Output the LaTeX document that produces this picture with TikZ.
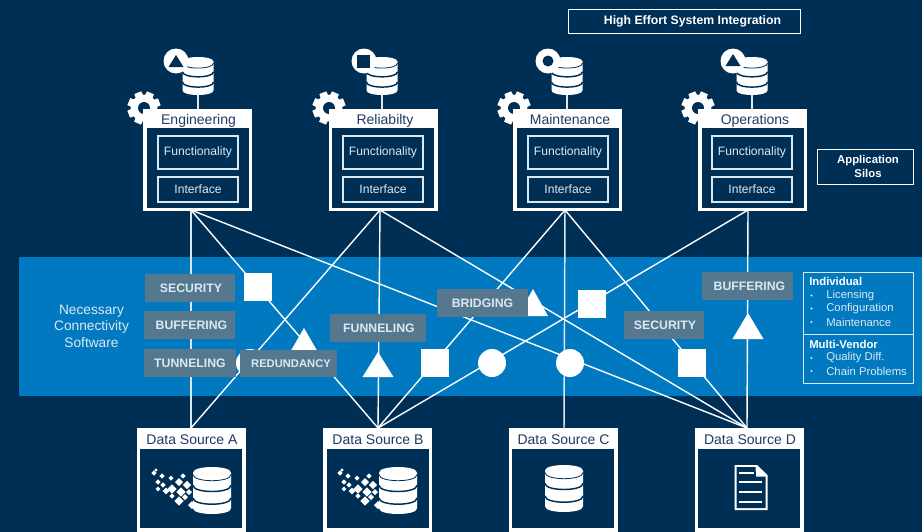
\documentclass[tikz,border=0pt]{standalone}
\usepackage{fontspec}
\setmainfont{Liberation Sans}
\usetikzlibrary{calc}
\definecolor{navy}{HTML}{002F56}
\definecolor{band}{HTML}{0079C1}
\definecolor{tag}{HTML}{56788F}
\definecolor{ttl}{HTML}{1E3A62}
\definecolor{pale}{HTML}{DCE8F1}
\def\u{0.75pt}
\tikzset{
  link/.style={white,line width=1.05pt},
  palelink/.style={pale,line width=1.1pt},
  sym/.style={fill=white,draw=none,inner sep=0pt,outer sep=0pt},
  sqsym/.style={sym,rectangle,minimum size=28*\u},
  cisym/.style={sym,circle,minimum size=28*\u},
  tagbox/.style={fill=tag,text=pale,inner sep=0pt,outer sep=0pt,text height=6.5pt,text depth=0pt,font=\fontsize{9.2pt}{11pt}\selectfont\bfseries,align=center},
  outer/.style={fill=white,inner sep=0pt,outer sep=0pt,minimum width=109*\u},
  inner/.style={fill=navy,inner sep=0pt,outer sep=0pt,minimum width=102*\u},
  sub/.style={draw=pale,line width=1.1pt,fill=navy,text=pale,inner sep=0pt,minimum width=80*\u,font=\fontsize{9.1pt}{11pt}\selectfont},
  ttlb/.style={text=ttl,inner sep=0pt,anchor=base,font=\fontsize{10.5pt}{12pt}\selectfont},
  note/.style={draw=white,line width=0.65pt,text=white,inner sep=0pt,align=center,font=\fontsize{8.5pt}{10.5pt}\selectfont\bfseries},
  small/.style={text=pale,inner sep=0pt,anchor=west,font=\fontsize{8.5pt}{9pt}\selectfont},
  smallb/.style={small,text=white,font=\fontsize{8.5pt}{9pt}\selectfont\bfseries},
}
% database icon: x, y top, half width, height
\newcommand{\dbicon}[4]{%
  \begin{scope}[shift={(#1,#2)}]
    \pgfmathsetmacro{\w}{#3}\pgfmathsetmacro{\h}{#4}
    \pgfmathsetmacro{\e}{\h*0.12}\pgfmathsetmacro{\k}{\h*0.175}
    \pgfmathsetmacro{\ta}{\h*0.16}
    \pgfmathsetmacro{\tb}{\h*0.39}\pgfmathsetmacro{\tc}{\h*0.66}
    \pgfmathsetmacro{\bt}{\h-\e}
    \fill[white] (-\w,\e) .. controls (-\w,-\e*0.33) and (\w,-\e*0.33) .. (\w,\e)
      -- (\w,\bt) .. controls (\w,\h+\e*0.33) and (-\w,\h+\e*0.33) .. (-\w,\bt) -- cycle;
    \draw[navy,line width=0.6pt] (-\w,\ta) .. controls (-\w,\ta+\k) and (\w,\ta+\k) .. (\w,\ta);
    \draw[navy,line width=1.1pt] (-\w,\tb) .. controls (-\w,\tb+\k) and (\w,\tb+\k) .. (\w,\tb);
    \draw[navy,line width=1.1pt] (-\w,\tc) .. controls (-\w,\tc+\k) and (\w,\tc+\k) .. (\w,\tc);
  \end{scope}}
% gear: x, y
\newcommand{\gearicon}[2]{%
  \begin{scope}[shift={(#1,#2)}]
    \foreach \a in {0,45,...,315}{
      \fill[white,rotate=\a+22] (-3.7,-16.5) -- (3.7,-16.5) -- (4.7,0) -- (-4.7,0) -- cycle;}
    \fill[white] (0,0) circle [radius=13.3];
    \fill[navy] (0,0) circle [radius=6];
  \end{scope}}
% triangle: x apex, y apex, half base, height
\newcommand{\tri}[4]{\fill[white] (#1,#2) -- (#1+#3,#2+#4) -- (#1-#3,#2+#4) -- cycle;}
% diamond
\newcommand{\dia}[3]{\fill[white] (#1-#3,#2) -- (#1,#2-#3) -- (#1+#3,#2) -- (#1,#2+#3) -- cycle;}
\newcommand{\pixels}[2]{%
  \begin{scope}[shift={(#1,#2)}]
    \dia{-58}{-17}{2.6}\dia{-56}{-20}{1.6}\dia{-50}{-14}{2.6}\dia{-41}{-12}{2.5}
    \dia{-54}{-8}{2.6}\dia{-49}{-5}{2.6}\dia{-54}{-1}{2.4}\dia{-46}{1}{3.3}
    \dia{-40}{-1}{4.6}\dia{-33}{-8}{4}\dia{-25}{-5}{4.2}\dia{-31}{2}{4.6}
    \dia{-40}{6}{2.6}\dia{-33}{11}{4.6}\dia{-27}{7}{3}\dia{-29}{-14}{2.6}
    \dia{-20}{15}{4}\dia{-23}{2}{3}
  \end{scope}}
\begin{document}
\begin{tikzpicture}[x=\u,y=-\u]
\useasboundingbox (0,0) rectangle (922,532);
\fill[navy] (0,0) rectangle (922,532);
\fill[band] (19,257) rectangle (922,396);
% anchors of the connectors
\coordinate (eB) at (191,210); \coordinate (rB) at (380,210);
\coordinate (mB) at (565,210); \coordinate (oB) at (748,210);
\coordinate (aT) at (191,428); \coordinate (bT) at (378,428);
\coordinate (cT) at (564,428); \coordinate (dT) at (747,428);
% connectors
\draw[palelink] (eB) -- (aT);
\draw[link] (eB) -- (bT);
\draw[link] (eB) -- (dT);
\draw[link] (rB) -- (aT);
\draw[link] (rB) -- (bT);
\draw[link] (rB) -- (dT);
\draw[link] (mB) -- (bT);
\draw[palelink] (mB) -- (cT);
\draw[link] (mB) -- (dT);
\draw[link] (oB) -- (bT);
\draw[link] (oB) -- (dT);
% symbols
\node[sqsym] (s1) at (258,287) {};
\node[cisym] (c0) at (250,363) {};
\tri{304}{328}{15}{26}
\tri{378}{352}{15.5}{25}
\node[sqsym] (s2) at (435,363) {};
\node[cisym] (c1) at (492,363) {};
\node[cisym] (c2) at (570,363) {};
\tri{533}{289}{15}{27}
\node[sqsym] (s3) at (591.5,304) {};
\node[cisym] (c3) at (658,325) {};
\node[sqsym] (s4) at (692,363) {};
\tri{748}{313}{15.5}{26}
% band labels
\node[tagbox,minimum width=90*\u,minimum height=28*\u] (tSec) at (190,288) {\hspace*{1.5pt}SECURITY};
\node[tagbox,minimum width=91*\u,minimum height=28*\u] (tBuf) at (189.5,325) {\hspace*{3pt}BUFFERING};
\node[tagbox,minimum width=92*\u,minimum height=28*\u] (tTun) at (190,363) {TUNNELING};
\node[tagbox,minimum width=97*\u,minimum height=27*\u,font=\fontsize{8.4pt}{10pt}\selectfont\bfseries] (tRed) at (288.5,363.5) {\hspace*{3.75pt}REDUNDANCY};
\node[tagbox,minimum width=96*\u,minimum height=28*\u] (tFun) at (378,328) {\hspace*{1.5pt}FUNNELING};
\node[tagbox,minimum width=91*\u,minimum height=28*\u] (tBri) at (482.5,303) {BRIDGING};
\node[tagbox,minimum width=80*\u,minimum height=28*\u] (tSe2) at (664,325) {\hspace*{1.5pt}SECURITY};
\node[tagbox,minimum width=91*\u,minimum height=28*\u] (tBu2) at (747.5,286) {\hspace*{3pt}BUFFERING};
\node[text=pale,align=center,inner sep=0pt,font=\fontsize{10.3pt}{12.3pt}\selectfont] (nec) at (91.5,326) {Necessary\\Connectivity\\Software};
% application silos
\foreach \nm/\x/\lab/\gx/\dbx/\bx/\fx/\tx in {
  eng/197.5/Engineering/144/198/176/198/198.5,
  rel/383/Reliabilty/329/382/364/383/385,
  mai/567.5/Maintenance/514/567/548/568/570,
  ope/752.5/Operations/698/752/733/752/755}{
  \draw[pale,line width=0.8pt] (\dbx,90) -- (\dbx,110);
  \gearicon{\gx}{108}
  \dbicon{\dbx}{57}{15.5}{38}
  \fill[white] (\bx,61) circle [radius=12.5];
  \node[outer,minimum height=102*\u] (\nm) at (\x,160) {};
  \node[inner,minimum height=80*\u] (\nm In) at (\x,168) {};
  \node[ttlb] (\nm T) at (\tx,124) {\lab};
  \node[sub,minimum height=33*\u] (\nm F) at (\fx,152.5) {Functionality};
  \node[sub,minimum height=25*\u] (\nm I) at (\fx,189.5) {Interface};
}
\fill[navy] (168.5,67) -- (176,55) -- (183.5,67) -- cycle;
\fill[navy] (357,55) rectangle (369.5,67.5);
\fill[navy] (548,61) circle [radius=5.5];
\fill[navy] (725.5,66) -- (733,54) -- (740.5,66) -- cycle;
% data sources
\foreach \nm/\x/\tx/\lab in {a/191/192/A,b/377.5/378/B,c/563/563.5/C,d/749/750/D}{
  \node[outer,minimum height=120*\u] (\nm) at (\x,488) {};
  \node[inner,minimum height=79*\u] (\nm In) at (\x,488.5) {};
  \node[ttlb] (\nm T) at (\tx,444) {Data Source \lab};
}
\dbicon{212}{467}{19}{47}
\pixels{212}{490}
\dbicon{398}{467}{19}{47}
\pixels{398}{490}
\dbicon{564}{465}{19}{47}
% document icon
\fill[white] (734.5,465) -- (757,465) -- (767.5,475) -- (767.5,510) -- (734.5,510) -- cycle;
\fill[navy] (736.5,467) -- (755.5,467) -- (756,476.5) -- (765.5,476.5) -- (765.5,508) -- (736.5,508) -- cycle;
\draw[white,line width=1pt] (739,473) -- (754,473) (739,482) -- (762,482) (739,492) -- (762,492) (739,502) -- (762,502);
% notes
\node[note,minimum width=232*\u,minimum height=24*\u,font=\fontsize{9.2pt}{10pt}\selectfont\bfseries] (high) at (684,21) {\hspace*{12.75pt}High Effort System Integration};
\node[note,minimum width=96*\u,minimum height=35*\u] (silo) at (865,166.5) {\hspace*{4.5pt}Application\\\hspace*{4.5pt}Silos};
\node[draw=pale,line width=0.65pt,inner sep=0pt,minimum width=110.5*\u,minimum height=111*\u] (info) at (858.5,327.5) {};
\draw[pale,line width=0.65pt] (info.west |- 0,334) -- (info.east |- 0,334);
\node[smallb] (i0) at (809,281.5) {Individual};
\node[small] (i1) at (826,295.5) {Licensing};
\node[small] (i2) at (826,308.5) {Configuration};
\node[small] (i3) at (826,322) {Maintenance};
\node[smallb] (i4) at (809,344) {Multi-Vendor};
\node[small] (i5) at (826,358) {Quality Diff.};
\node[small] (i6) at (826,371) {Chain Problems};
\foreach \yy in {295.5,308.5,322,358,371}{\fill[pale] (811.5,\yy) circle [radius=1.2];}
\end{tikzpicture}
\end{document}
